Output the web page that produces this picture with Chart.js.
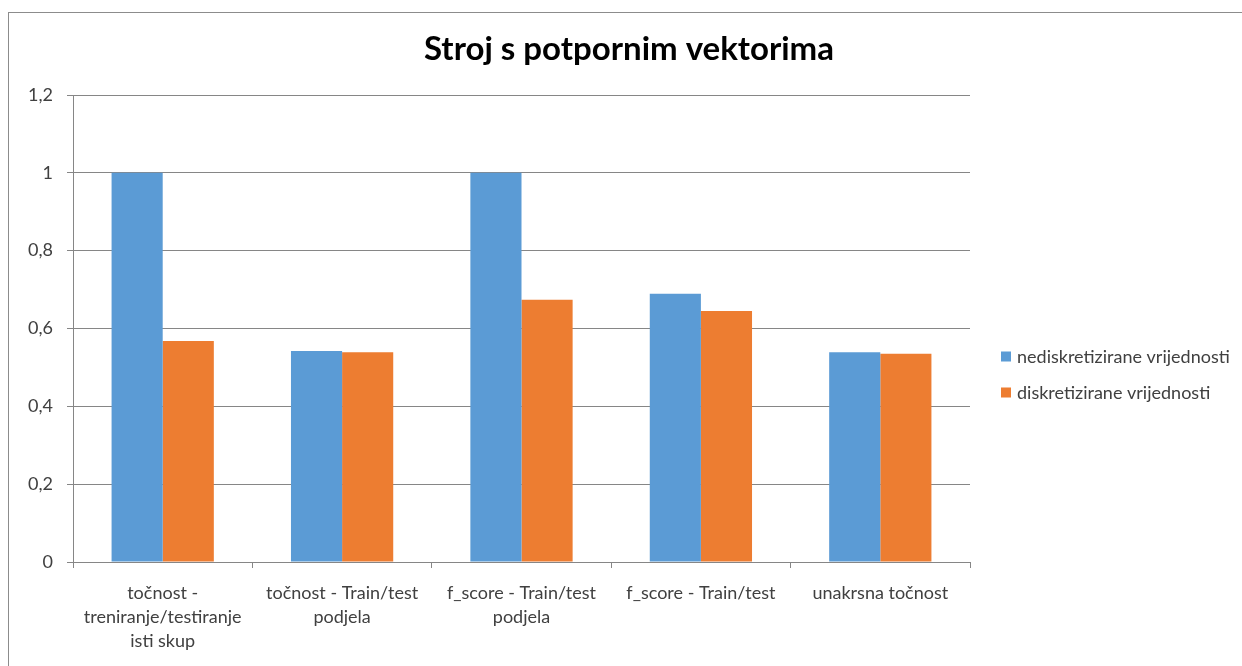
<!DOCTYPE html>
<html><head><meta charset="utf-8">
<script src="https://cdn.jsdelivr.net/npm/chart.js@4/dist/chart.umd.min.js"></script>
<style>html,body{margin:0;padding:0;background:#fff}#wrap{width:1242px;height:666px;position:relative}</style>
</head><body><div id="wrap"><canvas id="c" width="1242" height="666"></canvas></div>
<script>
const categories = [
  ["točnost -", "treniranje/testiranje", "isti skup"],
  ["točnost - Train/test", "podjela"],
  ["f_score - Train/test", "podjela"],
  ["f_score - Train/test"],
  ["unakrsna točnost"]
];
const seriesNames = ["nediskretizirane vrijednosti", "diskretizirane vrijednosti"];
const nediskretizirane = [1, 0.542, 1, 0.689, 0.539];
const diskretizirane = [0.568, 0.539, 0.674, 0.645, 0.535];
const yMin = 0, yMax = 1.2, yStep = 0.2;
const titleText = "Stroj s potpornim vektorima";

const colors = ["#5B9BD5", "#ED7D31"];
const FONT = "Lato, 'Liberation Sans', sans-serif";

const borderPlugin = {
  id: 'frame',
  beforeDraw(chart) {
    const ctx = chart.ctx;
    ctx.save();
    ctx.fillStyle = '#ffffff';
    ctx.fillRect(0, 0, chart.width, chart.height);
    ctx.strokeStyle = '#8c8c8c';
    ctx.lineWidth = 1;
    ctx.strokeRect(8.5, 12.5, 3000, 3000);
    ctx.restore();
  }
};

const legendPlugin = {
  id: 'sideLegend',
  afterDraw(chart) {
    const ctx = chart.ctx;
    const a = chart.chartArea;
    const x0 = a.right + 31;
    const yc = (a.top + a.bottom) / 2 + 46;
    const gap = 36;
    const ds = chart.data.datasets;
    ctx.save();
    ctx.font = "18px " + FONT;
    ctx.textBaseline = 'middle';
    ctx.textAlign = 'left';
    ds.forEach((d, i) => {
      const y = yc - gap / 2 + i * gap;
      ctx.fillStyle = d.backgroundColor;
      ctx.fillRect(x0, y - 5, 10, 10);
      ctx.fillStyle = '#404040';
      ctx.fillText(d.label, x0 + 16, y + 1);
    });
    ctx.restore();
  }
};

new Chart(document.getElementById('c'), {
  type: 'bar',
  data: {
    labels: categories,
    datasets: [
      { label: seriesNames[0], data: nediskretizirane, backgroundColor: colors[0] },
      { label: seriesNames[1], data: diskretizirane, backgroundColor: colors[1] }
    ]
  },
  options: {
    responsive: false,
    animation: false,
    devicePixelRatio: 1,
    layout: { padding: { left: 16, right: 0, top: 0, bottom: 0 } },
    datasets: { bar: { categoryPercentage: 0.57, barPercentage: 1.0 } },
    plugins: {
      legend: { display: false },
      tooltip: { enabled: false },
      title: {
        display: true,
        text: titleText,
        color: '#000000',
        font: { family: FONT, size: 33, weight: 'bold', lineHeight: 1.2 },
        padding: { top: 30, bottom: 25.4 }
      }
    },
    scales: {
      x: {
        offset: true,
        grid: { display: true, drawOnChartArea: false, drawTicks: true, tickLength: 6, color: '#868686', offset: true },
        border: { display: true, color: '#868686', width: 1 },
        ticks: { color: '#404040', font: { family: FONT, size: 18, lineHeight: 1.333 }, padding: 13, maxRotation: 0, autoSkip: false },
        afterFit(s) { s.height = 104; }
      },
      y: {
        min: yMin, max: yMax,
        grid: { color: '#868686', lineWidth: 1, tickLength: 6 },
        border: { display: true, color: '#868686', width: 1 },
        ticks: {
          stepSize: yStep,
          color: '#404040',
          font: { family: FONT, size: 18 },
          padding: 14,
          callback: v => String(Number(v.toFixed(1))).replace('.', ',')
        },
        afterFit(s) { s.width = 57; }
      },
      legendSpace: {
        type: 'linear',
        position: 'right',
        display: true,
        grid: { display: false, drawTicks: false },
        border: { display: false },
        ticks: { display: false },
        afterFit(s) { s.width = 272; }
      }
    }
  },
  plugins: [borderPlugin, legendPlugin]
});
</script></body></html>
